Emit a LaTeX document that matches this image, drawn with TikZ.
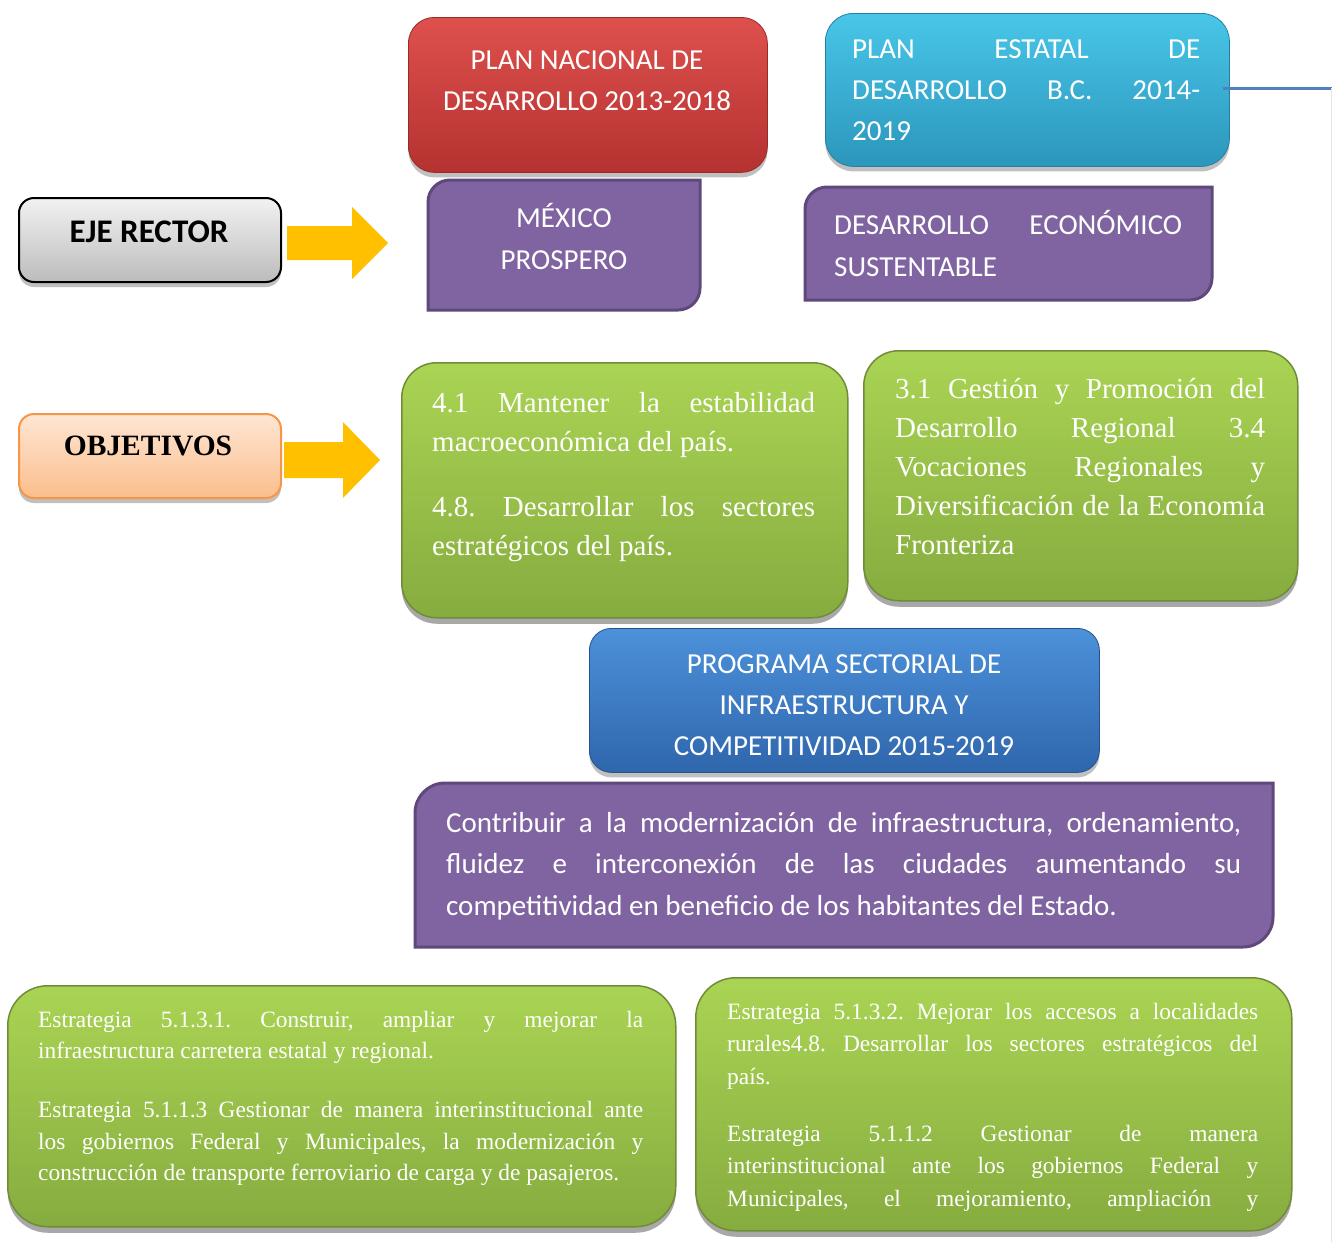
\documentclass[tikz,border=0pt]{standalone}
\usepackage{fontspec}
\setmainfont{Liberation Serif}
\newfontfamily\calib{Carlito}
\usetikzlibrary{shadows}
\frenchspacing
\definecolor{redtop}{RGB}{222,80,77}
\definecolor{redbot}{RGB}{180,50,48}
\definecolor{cyantop}{RGB}{72,198,232}
\definecolor{cyanbot}{RGB}{44,150,188}
\definecolor{purp}{RGB}{128,100,162}
\definecolor{purpedge}{RGB}{94,73,122}
\definecolor{gtop}{RGB}{170,212,84}
\definecolor{gbot}{RGB}{134,172,63}
\definecolor{gedge}{RGB}{112,140,56}
\definecolor{progtop}{RGB}{76,145,218}
\definecolor{progbot}{RGB}{47,102,172}
\definecolor{greytop}{RGB}{242,242,242}
\definecolor{greybot}{RGB}{188,188,188}
\definecolor{orgtop}{RGB}{254,230,212}
\definecolor{orgbot}{RGB}{251,190,140}
\definecolor{orgedge}{RGB}{247,150,70}
\definecolor{arrowyel}{RGB}{255,192,0}
\definecolor{linkblue}{RGB}{79,129,189}
\newcommand\jl[1]{\makebox[\hsize][s]{\frenchspacing\spaceskip=0pt\xspaceskip=0pt #1}\\}
\newcommand\cl[1]{\makebox[\hsize][c]{\frenchspacing\spaceskip=0pt\xspaceskip=0pt #1}}
\newcommand\st{\frenchspacing\spaceskip=0pt\xspaceskip=0pt\strut}
\newcommand\fcal{\calib\fontsize{29}{41}\selectfont}
\newcommand\fcalb{\calib\fontsize{29}{42}\selectfont}
\newcommand\ftim{\fontsize{29}{39}\selectfont}
\newcommand\fsma{\fontsize{23.4}{31.5}\selectfont}
\newcommand\fsmb{\fontsize{23.4}{32.5}\selectfont}
\newcommand\purpshape[5]{%
  \filldraw[purpbox] ({#1},{#2+#5}) arc(180:270:#5) -- ({#3},{#2}) -- ({#3},{#4-#5}) arc(0:90:#5) -- ({#1},{#4}) -- cycle;}
\begin{document}
\begin{tikzpicture}[x=1pt,y=-1pt,
  boxbase/.style={rectangle, inner sep=0pt, anchor=north west},
  softshadow/.style={drop shadow={shadow xshift=0pt, shadow yshift=-5pt, opacity=0.35, fill=black!70}},
  redbox/.style={boxbase, rounded corners=26pt, top color=redtop, bottom color=redbot, draw=redbot!85!black, line width=0.8pt, softshadow},
  cyanbox/.style={boxbase, rounded corners=28pt, top color=cyantop, bottom color=cyanbot, draw=cyanbot!85!black, line width=0.8pt, softshadow},
  greenbox/.style={boxbase, rounded corners=#1, top color=gtop, bottom color=gbot, draw=gedge, line width=1.5pt, drop shadow={shadow xshift=0pt, shadow yshift=-6pt, opacity=0.45, fill=black!75}},
  progbox/.style={boxbase, rounded corners=22pt, top color=progtop, bottom color=progbot, draw=progbot!80!black, line width=0.8pt, softshadow},
  greybox/.style={boxbase, rounded corners=15pt, top color=greytop, bottom color=greybot, draw=black, line width=2pt, softshadow},
  orgbox/.style={boxbase, rounded corners=15pt, top color=orgtop, bottom color=orgbot, draw=orgedge, line width=2pt, softshadow},
  purpbox/.style={fill=purp, draw=purpedge, line width=3pt},
  txtl/.style={inner sep=0pt, anchor=north west, align=left, text=white},
  txtc/.style={inner sep=0pt, anchor=north, align=left, text=white},
  yarrow/.style={fill=arrowyel},
  conn/.style={draw=linkblue, line width=3pt}
]
\useasboundingbox (0,0) rectangle (1332,1242);
\fill[white] (0,0) rectangle (1332,1242);

% top plan boxes
\node[redbox, minimum width=359pt, minimum height=155pt] (pnd) at (408,17) {};
\node[txtc, text width=360pt, font=\fcal] (pndt) at (587,40.3) {\st\cl{PLAN NACIONAL DE}\\\cl{DESARROLLO 2013-2018}};

\node[cyanbox, minimum width=404pt, minimum height=153pt] (ped) at (825,13) {};
\node[txtl, text width=348pt, font=\fcal] (pedt) at (852,29.3) {\st\jl{PLAN ESTATAL DE}\jl{DESARROLLO B.C. 2014-}2019};

\coordinate (pend) at (1332,88);
\draw[conn] (ped.east |- pend) ++(-7,0) -- (pend);
\coordinate (vend) at (1331,1242);
\draw[black!10, line width=1pt] (pend) ++(-1,0) -- (vend);

% eje rector
\node[greybox, minimum width=262pt, minimum height=84pt] (eje) at (18,197) {};
\node[inner sep=0pt, anchor=base, font=\calib\bfseries\fontsize{33}{38}\selectfont] (ejet) at (149,242) {EJE RECTOR};
\fill[yarrow] (287,226) -- (352,226) -- (352,207) -- (388,243) -- (352,279) -- (352,260) -- (287,260) -- cycle;

\purpshape{428}{180}{700}{310}{22}
\node[txtc, text width=270pt, font=\fcalb] (mex) at (564,197.6) {\st\cl{MÉXICO}\\\cl{PROSPERO}};

\purpshape{805}{187}{1212}{300}{22}
\node[txtl, text width=348pt, font=\fcalb] (des) at (834,204.6) {\st\jl{DESARROLLO ECONÓMICO}SUSTENTABLE};

% objetivos
\node[orgbox, minimum width=262pt, minimum height=84pt] (obj) at (18,413) {};
\node[inner sep=0pt, anchor=base, font=\bfseries\fontsize{29.5}{34}\selectfont] (objt) at (148,455) {OBJETIVOS};
\fill[yarrow] (284,442) -- (343,442) -- (343,422) -- (380,460) -- (343,498) -- (343,478) -- (284,478) -- cycle;

\node[greenbox=35pt, minimum width=446pt, minimum height=255pt] (g1) at (401,362) {};
\node[txtl, text width=383pt, font=\ftim] (g1t) at (432,384.7) {\st\jl{4.1 Mantener la estabilidad}macroeconómica del país.\\[26.5pt]\jl{4.8. Desarrollar los sectores}estratégicos del país.};

\node[greenbox=35pt, minimum width=434pt, minimum height=250pt] (g2) at (863,350) {};
\node[txtl, text width=370pt, font=\ftim] (g2t) at (895,370.7) {\st\jl{3.1 Gestión y Promoción del}\jl{Desarrollo Regional 3.4}\jl{Vocaciones Regionales y}\jl{Diversificación de la Economía}Fronteriza};

% programa sectorial
\node[progbox, minimum width=510pt, minimum height=144pt] (prog) at (589,628) {};
\node[txtc, text width=500pt, font=\fcal] (progt) at (844,644.3) {\st\cl{PROGRAMA SECTORIAL DE}\\\cl{INFRAESTRUCTURA Y}\\\cl{COMPETITIVIDAD 2015-2019}};

\purpshape{415}{783}{1273}{947}{30}
\node[txtl, text width=795pt, font=\calib\fontsize{29}{41.5}\selectfont] (contr) at (446,803) {\st\jl{Contribuir a la modernización de infraestructura, ordenamiento,}\jl{fluidez e interconexión de las ciudades aumentando su}competitividad en beneficio de los habitantes del Estado.};

% estrategias
\node[greenbox=40pt, minimum width=668pt, minimum height=241pt] (g3) at (7,985) {};
\node[txtl, text width=605pt, font=\fsma] (g3t) at (38,1005) {\st\jl{Estrategia 5.1.3.1. Construir, ampliar y mejorar la}infraestructura carretera estatal y regional.\\[27.5pt]\jl{Estrategia 5.1.1.3 Gestionar de manera interinstitucional ante}\jl{los gobiernos Federal y Municipales, la modernización y}construcción de transporte ferroviario de carga y de pasajeros.};

\node[greenbox=40pt, minimum width=596pt, minimum height=253pt] (g4) at (695,977) {};
\node[txtl, text width=531pt, font=\fsmb] (g4t) at (727,996.25) {\st\jl{Estrategia 5.1.3.2. Mejorar los accesos a localidades}\jl{rurales4.8. Desarrollar los sectores estratégicos del}país.\\[24.5pt]\jl{Estrategia 5.1.1.2 Gestionar de manera}\jl{interinstitucional ante los gobiernos Federal y}\makebox[\hsize][s]{\spaceskip=0pt\xspaceskip=0pt Municipales, el mejoramiento, ampliación y}};
\end{tikzpicture}
\end{document}
